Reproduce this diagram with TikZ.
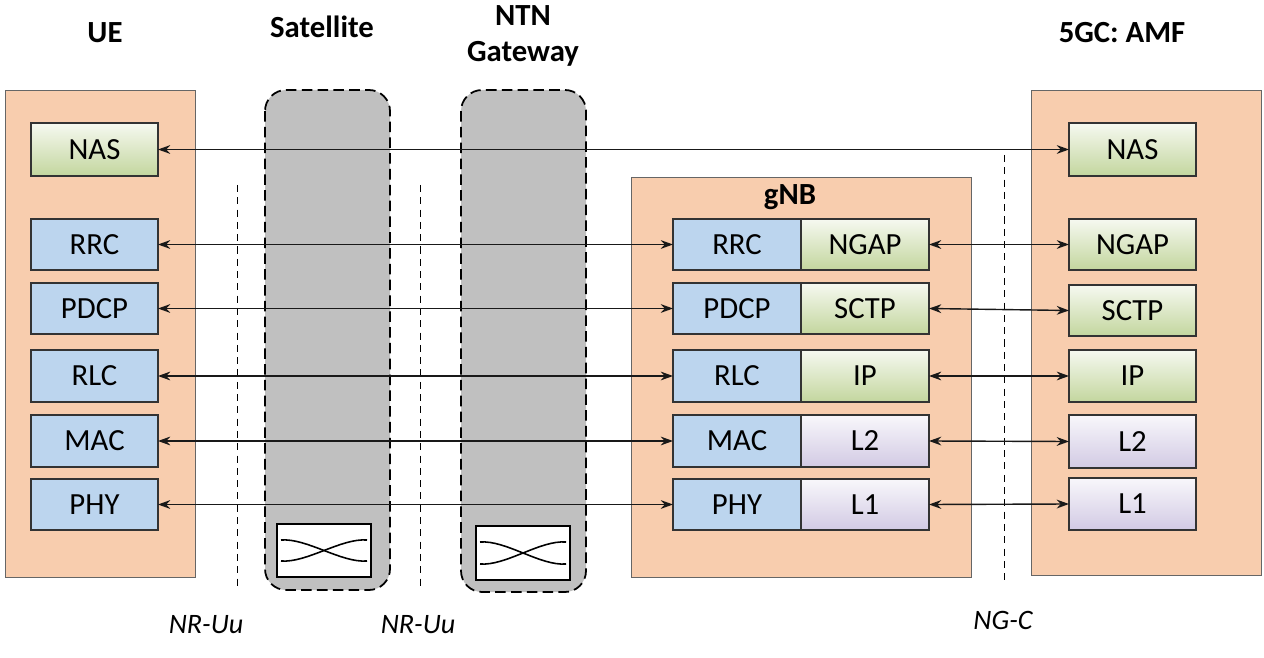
\documentclass[tikz,border=0pt]{standalone}
\usepackage{fontspec}
\setmainfont{Carlito}
\usetikzlibrary{arrows.meta}
\definecolor{peach}{HTML}{F8CDAE}
\definecolor{blu}{HTML}{BCD5EE}
\definecolor{grn}{HTML}{C3D69E}
\definecolor{pur}{HTML}{D2CAE4}
\definecolor{sat}{HTML}{C0C0C0}
\begin{document}
\begin{tikzpicture}[x=0.02cm,y=-0.02cm,
  panel/.style={draw=black!60,fill=peach},
  bx/.style={draw=black!80,line width=0.8pt},
  B/.style={bx,fill=blu},
  G/.style={bx,top color=white!85!grn,bottom color=grn},
  P/.style={bx,top color=white!85!pur,bottom color=pur},
  lbl/.style={font=\fontsize{17.5}{20}\selectfont},
  tw/.style={draw=black!90,line width=0.8pt,{Stealth[length=7pt,width=5pt]}-{Stealth[length=7pt,width=5pt]}},
  sat/.style={draw,dash pattern=on 6pt off 3pt,line width=1pt,fill=sat,rounded corners=12pt},
  dl/.style={draw,dash pattern=on 4pt off 3pt,line width=0.5pt},
  ttl/.style={font=\bfseries\fontsize{17.5}{19}\selectfont,align=center},
  if/.style={font=\itshape\fontsize{16}{18}\selectfont}]
\useasboundingbox (0,0) rectangle (1264,658);
% panels
\path[panel] (5,90) rectangle (195,577);
\path[panel] (631,177) rectangle (971,577);
\path[panel] (1031,90) rectangle (1261,575);
\path[sat] (265,90) rectangle (390,590);
\path[sat] (461,90) rectangle (586,592);
% switches
\foreach \xa/\ya/\xb/\yb in {277/524/371/577,476/526/570/580}{
  \draw[fill=white,line width=1pt] (\xa,\ya) rectangle (\xb,\yb);
  \draw[line width=0.9pt] (\xa+4,\ya+16) .. controls (\xa+30,\ya+14) and (\xb-30,\yb-14) .. (\xb-4,\yb-16);
  \draw[line width=0.9pt] (\xa+4,\yb-16) .. controls (\xa+30,\yb-14) and (\xb-30,\ya+14) .. (\xb-4,\ya+16);
}
% dashed lines
\draw[dl] (237,185) -- (237,590);
\draw[dl] (420,185) -- (420,590);
\draw[dl] (1004,155) -- (1004,582);
% titles
\node[ttl] (tue) at (105,33) {UE};
\node[ttl] (tsat) at (322,27) {Satellite};
\node[ttl] (tntn) at (523,36) {NTN\\[1pt]Gateway};
\node[ttl] (tamf) at (1122,33) {5GC: AMF};
\node[ttl] (tgnb) at (790,197) {gNB};
\node[if] (i1) at (206,625) {NR-Uu};
\node[if] (i2) at (418,625) {NR-Uu};
\node[if] (i3) at (1003,620) {NG-C};
% UE stack
\foreach \n/\t/\ya/\yb in {unas/NAS/123/176,urrc/RRC/219/270,updcp/PDCP/283/334,urlc/RLC/350/402,umac/MAC/415/467,uphy/PHY/479/530}{
  \ifnum\ya=123
    \path[G] (31,\ya) rectangle (158,\yb);
  \else
    \path[B] (31,\ya) rectangle (158,\yb);
  \fi
  \node[lbl] (\n) at (94.5,{(\ya+\yb)/2}) {\t};
  \coordinate (\n R) at (158,{(\ya+\yb)/2});
}
% gNB stack
\foreach \n/\t/\m/\s/\ya/\yb/\c in {grrc/RRC/gngap/NGAP/219/270/G,gpdcp/PDCP/gsctp/SCTP/283/334/G,grlc/RLC/gip/IP/350/402/G,gmac/MAC/gl2/L2/415/467/P,gphy/PHY/gl1/L1/479/530/P}{
  \path[B] (673,\ya) rectangle (801,\yb);
  \path[\c] (801,\ya) rectangle (929,\yb);
  \node[lbl] (\n) at (737,{(\ya+\yb)/2}) {\t};
  \node[lbl] (\m) at (865,{(\ya+\yb)/2}) {\s};
  \coordinate (\n L) at (673,{(\ya+\yb)/2});
  \coordinate (\m R) at (929,{(\ya+\yb)/2});
}
% AMF stack
\foreach \n/\t/\ya/\yb/\c in {anas/NAS/123/176/G,angap/NGAP/219/270/G,asctp/SCTP/285/336/G,aip/IP/350/402/G,al2/L2/415/468/P,al1/L1/478/530/P}{
  \path[\c] (1069,\ya) rectangle (1196,\yb);
  \node[lbl] (\n) at (1132.5,{(\ya+\yb)/2}) {\t};
  \coordinate (\n L) at (1069,{(\ya+\yb)/2});
}
% connectors
\draw[tw] (unasR) -- (anasL);
\draw[tw] (urrcR) -- (grrcL);
\draw[tw] (updcpR) -- (gpdcpL);
\draw[tw] (urlcR) -- (grlcL);
\draw[tw] (umacR) -- (gmacL);
\draw[tw] (uphyR) -- (gphyL);
\draw[tw] (gngapR) -- (angapL);
\draw[tw] (gsctpR) -- (asctpL);
\draw[tw] (gipR) -- (aipL);
\draw[tw] (gl2R) -- (al2L);
\draw[tw] (gl1R) -- (al1L);
\end{tikzpicture}
\end{document}
